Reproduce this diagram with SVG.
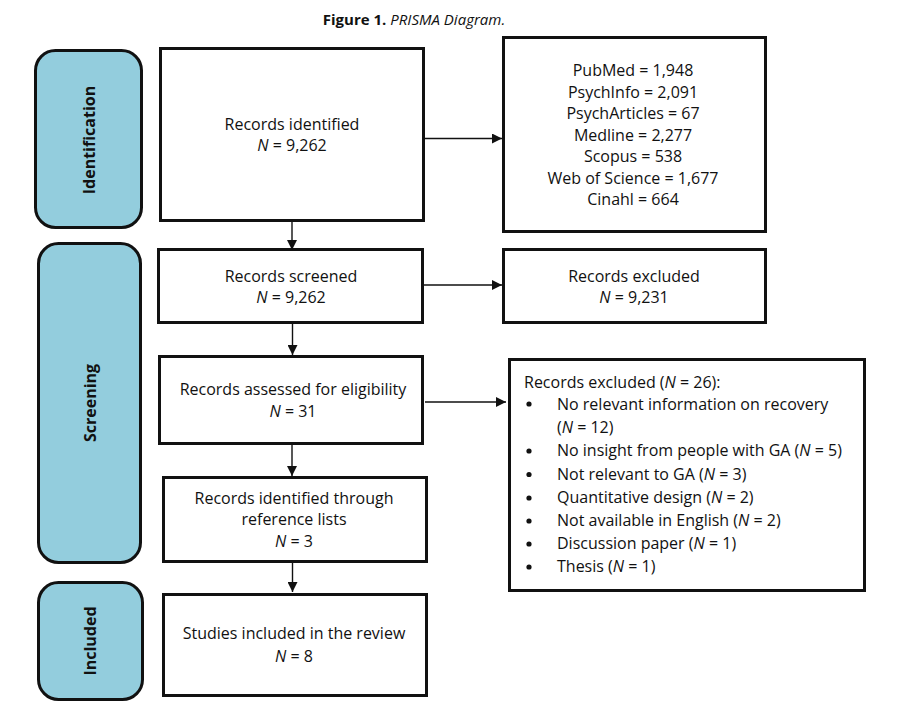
<svg xmlns="http://www.w3.org/2000/svg" width="899" height="712" viewBox="0 0 899 712">
  <style>
    text { font-family: "Open Sans", "Noto Sans", "DejaVu Sans", sans-serif; fill: #111; }
    .t { font-size: 16px; }
    .c { text-anchor: middle; }
    .i { font-style: italic; }
    .box { fill: #fff; stroke: #111; stroke-width: 3; }
    .phase { fill: #93CDDD; stroke: #111; stroke-width: 3; }
    .lbl { font-size: 16px; font-weight: bold; text-anchor: middle; dominant-baseline: central; }
    .conn line { stroke: #111; stroke-width: 1.4; marker-end: url(#arrow); }
  </style>
  <defs>
    <marker id="arrow" markerWidth="10" markerHeight="10" refX="10" refY="5" orient="auto" markerUnits="userSpaceOnUse">
      <path d="M0,0 L10,5 L0,10 Z" fill="#111"/>
    </marker>
  </defs>

  <rect width="899" height="712" fill="#fff"/>

  <text x="414" y="25" font-size="15" text-anchor="middle"><tspan font-weight="bold">Figure 1.</tspan> <tspan font-style="italic">PRISMA Diagram.</tspan></text>

  <!-- phase labels -->
  <g id="phase-identification">
    <rect class="phase" x="35.5" y="50.5" width="106" height="177" rx="20"/>
    <text class="lbl" transform="translate(89,140) rotate(-90)">Identification</text>
  </g>
  <g id="phase-screening">
    <rect class="phase" x="38.5" y="243.5" width="102" height="319" rx="20"/>
    <text class="lbl" transform="translate(90,403) rotate(-90)">Screening</text>
  </g>
  <g id="phase-included">
    <rect class="phase" x="38.5" y="582.5" width="104" height="117" rx="20"/>
    <text class="lbl" transform="translate(90,641) rotate(-90)">Included</text>
  </g>

  <!-- main flow -->
  <g id="records-identified">
    <rect class="box" x="160.5" y="48.5" width="263" height="172"/>
    <text class="t c" x="292" y="130">Records identified</text>
    <text class="t c" x="292" y="151"><tspan class="i">N</tspan> = 9,262</text>
  </g>
  <g id="sources">
    <rect class="box" x="503.5" y="37.5" width="262" height="194"/>
    <text class="t c" x="633" y="76">PubMed = 1,948</text>
    <text class="t c" x="633" y="97.5">PsychInfo = 2,091</text>
    <text class="t c" x="633" y="119">PsychArticles = 67</text>
    <text class="t c" x="633" y="140.5">Medline = 2,277</text>
    <text class="t c" x="633" y="162">Scopus = 538</text>
    <text class="t c" x="633" y="183.5">Web of Science = 1,677</text>
    <text class="t c" x="633" y="205">Cinahl = 664</text>
  </g>
  <g id="records-screened">
    <rect class="box" x="158.5" y="249.5" width="264" height="73"/>
    <text class="t c" x="291" y="282">Records screened</text>
    <text class="t c" x="291" y="303"><tspan class="i">N</tspan> = 9,262</text>
  </g>
  <g id="records-excluded">
    <rect class="box" x="503.5" y="249.5" width="262" height="73"/>
    <text class="t c" x="634" y="282">Records excluded</text>
    <text class="t c" x="634" y="303"><tspan class="i">N</tspan> = 9,231</text>
  </g>
  <g id="records-assessed">
    <rect class="box" x="159.5" y="356.5" width="263" height="87"/>
    <text class="t c" x="293" y="395">Records assessed for eligibility</text>
    <text class="t c" x="293" y="417"><tspan class="i">N</tspan> = 31</text>
  </g>
  <g id="exclusion-reasons">
    <rect class="box" x="509.5" y="359.5" width="355" height="231"/>
    <text class="t" x="524" y="388">Records excluded (<tspan class="i">N</tspan> = 26):</text>
    <g class="t">
      <circle cx="529" cy="404" r="2.6" fill="#111"/>
      <text class="t" x="557" y="409.5">No relevant information on recovery</text>
      <text class="t" x="557" y="433">(<tspan class="i">N</tspan> = 12)</text>
      <circle cx="529" cy="451" r="2.6" fill="#111"/>
      <text class="t" x="557" y="456">No insight from people with GA (<tspan class="i">N</tspan> = 5)</text>
      <circle cx="529" cy="474.5" r="2.6" fill="#111"/>
      <text class="t" x="557" y="479.5">Not relevant to GA (<tspan class="i">N</tspan> = 3)</text>
      <circle cx="529" cy="498" r="2.6" fill="#111"/>
      <text class="t" x="557" y="503">Quantitative design (<tspan class="i">N</tspan> = 2)</text>
      <circle cx="529" cy="521" r="2.6" fill="#111"/>
      <text class="t" x="557" y="526">Not available in English (<tspan class="i">N</tspan> = 2)</text>
      <circle cx="529" cy="544" r="2.6" fill="#111"/>
      <text class="t" x="557" y="549">Discussion paper (<tspan class="i">N</tspan> = 1)</text>
      <circle cx="529" cy="567" r="2.6" fill="#111"/>
      <text class="t" x="557" y="572">Thesis (<tspan class="i">N</tspan> = 1)</text>
    </g>
  </g>
  <g id="reference-lists">
    <rect class="box" x="163.5" y="477.5" width="263" height="84"/>
    <text class="t c" x="294" y="504">Records identified through</text>
    <text class="t c" x="294" y="525">reference lists</text>
    <text class="t c" x="294" y="547"><tspan class="i">N</tspan> = 3</text>
  </g>
  <g id="studies-included">
    <rect class="box" x="163.5" y="594.5" width="263" height="101"/>
    <text class="t c" x="294" y="639">Studies included in the review</text>
    <text class="t c" x="294" y="662"><tspan class="i">N</tspan> = 8</text>
  </g>

  <!-- connectors -->
  <g id="connectors" class="conn">
    <line x1="425" y1="138.5" x2="502" y2="138.5"/>
    <line x1="292" y1="222" x2="292" y2="250"/>
    <line x1="424" y1="285" x2="502" y2="285"/>
    <line x1="292.5" y1="324" x2="292.5" y2="355"/>
    <line x1="425" y1="402" x2="506" y2="402"/>
    <line x1="292" y1="445" x2="292" y2="476"/>
    <line x1="292.5" y1="563" x2="292.5" y2="592"/>
  </g>
</svg>
